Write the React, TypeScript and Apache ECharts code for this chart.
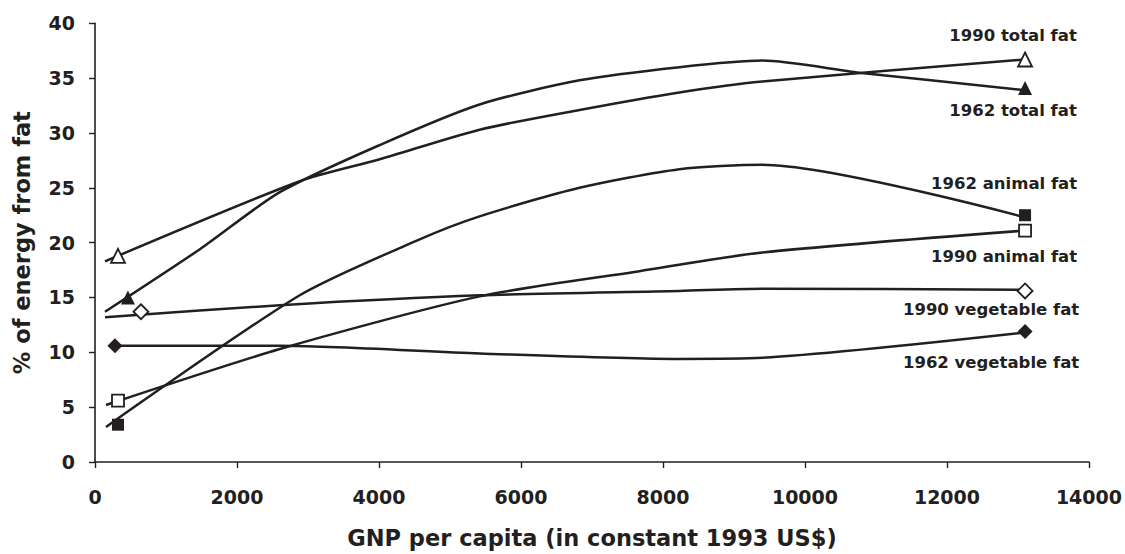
import React, { useEffect, useRef } from "react";
import * as echarts from "echarts";

const INK = "#231f20";
const FONT = "DejaVu Sans";

// Fitted curves (GNP per capita, % energy from fat)
const total1962: [number, number][] = [
  [141, 13.7], [1477, 19.4], [2603, 24.6], [4010, 28.9], [5417, 32.6],
  [6824, 34.8], [8231, 36.0], [9399, 36.6], [10764, 35.5], [13100, 33.9],
];
const total1990: [number, number][] = [
  [141, 18.3], [2884, 25.6], [4010, 27.6], [5417, 30.3], [6824, 32.1],
  [8231, 33.7], [9399, 34.7], [13100, 36.7],
];
const animal1962: [number, number][] = [
  [155, 3.2], [2884, 15.2], [4573, 20.3], [5417, 22.4], [6824, 25.0],
  [8231, 26.7], [9399, 27.1], [13100, 22.3],
];
const animal1990: [number, number][] = [
  [155, 5.2], [2603, 10.3], [5417, 15.1], [7668, 17.4], [9399, 19.1], [13100, 21.1],
];
const veg1990: [number, number][] = [
  [141, 13.2], [2603, 14.3], [5417, 15.2], [8231, 15.6], [9399, 15.8], [13100, 15.7],
];
const veg1962: [number, number][] = [
  [211, 10.6], [2603, 10.6], [5417, 9.9], [8231, 9.4], [9399, 9.5], [13100, 11.8],
];

// Observed points (markers): [low-income point, high-income point]
const total1962Pts: [number, number][] = [[464, 15.0], [13100, 34.1]];
const total1990Pts: [number, number][] = [[324, 18.8], [13100, 36.7]];
const animal1962Pts: [number, number][] = [[324, 3.4], [13100, 22.5]];
const animal1990Pts: [number, number][] = [[324, 5.6], [13100, 21.1]];
const veg1990Pts: [number, number][] = [[647, 13.7], [13100, 15.6]];
const veg1962Pts: [number, number][] = [[281, 10.6], [13100, 11.9]];

const xTicks = { min: 0, max: 14000, interval: 2000 };
const yTicks = { min: 0, max: 40, interval: 5 };

const labelStyle = {
  fontFamily: FONT,
  fontWeight: "bold" as const,
  fontSize: 16.5,
  color: INK,
  textBorderWidth: 0,
  textBorderColor: "transparent",
  opacity: 1,
};

function lineSeries(data: [number, number][]) {
  return {
    type: "line",
    data,
    smooth: 0.25,
    showSymbol: false,
    symbol: "none",
    lineStyle: { color: INK, width: 2.5 },
    silent: true,
    z: 2,
  };
}

function markerSeries(
  pts: [number, number][],
  symbol: string,
  size: number,
  filled: boolean,
  label: string,
  offset: [number, number]
) {
  return {
    type: "scatter",
    symbol,
    symbolSize: size,
    itemStyle: {
      color: filled ? INK : "#ffffff",
      borderColor: INK,
      borderWidth: filled ? 0 : 1.8,
      opacity: 1,
    },
    data: pts.map((p, i) =>
      i === pts.length - 1
        ? {
            value: p,
            label: {
              show: true,
              position: "inside",
              offset,
              formatter: label,
              ...labelStyle,
            },
          }
        : { value: p }
    ),
    z: 3,
  };
}

export default function App() {
  const ref = useRef<HTMLDivElement>(null);
  useEffect(() => {
    if (!ref.current) return;
    const chart = echarts.init(ref.current, undefined, { renderer: "svg" });
    chart.setOption({
      animation: false,
      backgroundColor: "#ffffff",
      grid: { left: 95, right: 33, top: 23.3, bottom: 90, containLabel: false },
      xAxis: {
        type: "value",
        ...xTicks,
        name: "GNP per capita (in constant 1993 US$)",
        nameLocation: "middle",
        nameGap: 64,
        nameTextStyle: { fontFamily: FONT, fontWeight: "bold", fontSize: 22.5, color: INK },
        axisLine: { show: true, onZero: false, lineStyle: { color: INK, width: 1.6 } },
        axisTick: { show: true, length: 6, lineStyle: { color: INK, width: 1.4 } },
        axisLabel: {
          fontFamily: FONT, fontWeight: "bold", fontSize: 19, color: INK, margin: 25,
          formatter: (v: number) => String(v),
        },
        splitLine: { show: false },
      },
      yAxis: {
        type: "value",
        ...yTicks,
        name: "% of energy from fat",
        nameLocation: "middle",
        nameGap: 62,
        nameTextStyle: { fontFamily: FONT, fontWeight: "bold", fontSize: 22.5, color: INK },
        axisLine: { show: true, lineStyle: { color: INK, width: 1.6 } },
        axisTick: { show: true, length: 6, lineStyle: { color: INK, width: 1.4 } },
        axisLabel: { fontFamily: FONT, fontWeight: "bold", fontSize: 19, color: INK, margin: 20 },
        splitLine: { show: false },
      },
      series: [
        lineSeries(total1962),
        lineSeries(total1990),
        lineSeries(animal1962),
        lineSeries(animal1990),
        lineSeries(veg1990),
        lineSeries(veg1962),
        markerSeries(total1990Pts, "triangle", 14, false, "1990 total fat", [-12, -24]),
        markerSeries(total1962Pts, "triangle", 14, true, "1962 total fat", [-12, 22]),
        markerSeries(animal1962Pts, "rect", 12, true, "1962 animal fat", [-21, -32]),
        markerSeries(animal1990Pts, "rect", 12, false, "1990 animal fat", [-21, 26]),
        markerSeries(veg1990Pts, "diamond", 15, false, "1990 vegetable fat", [-34, 19]),
        markerSeries(veg1962Pts, "diamond", 15, true, "1962 vegetable fat", [-34, 31]),
      ],
    });
    return () => chart.dispose();
  }, []);
  return (
    <div
      ref={ref}
      style={{ position: "absolute", left: 0, top: 0, width: 1125, height: 554, background: "#fff" }}
    />
  );
}
